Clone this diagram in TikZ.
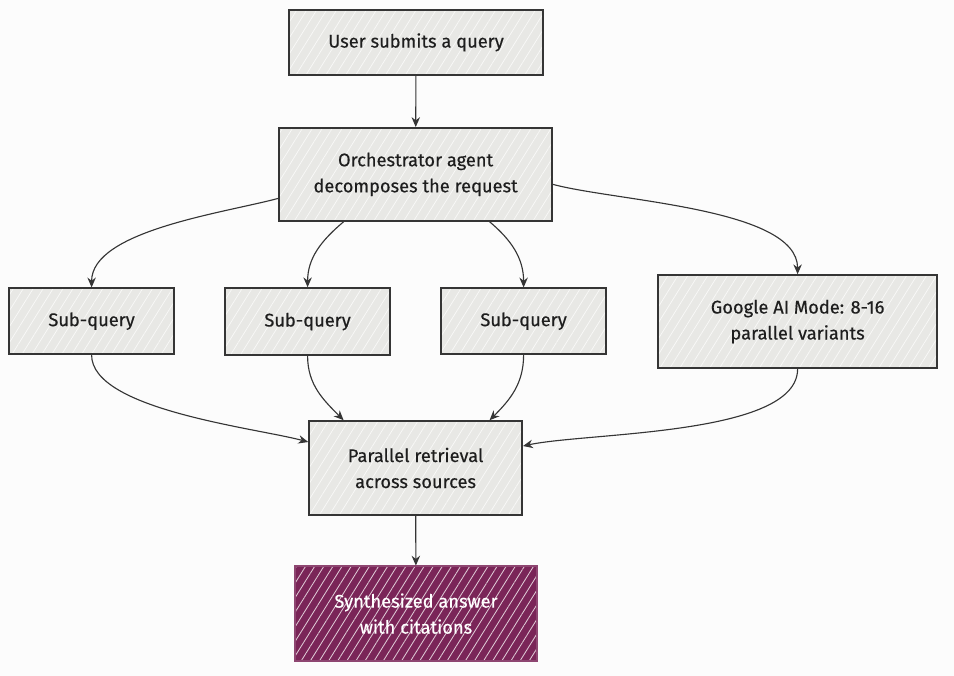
\documentclass[tikz,border=0pt]{standalone}
\usepackage{fontspec}
\setmainfont{Fira Sans}[FakeBold=0.4]
\usetikzlibrary{arrows.meta, positioning, patterns.meta}

\definecolor{boxgray}{HTML}{E8E8E5}
\definecolor{inkdark}{HTML}{1E1E1E}
\definecolor{plum}{HTML}{7A2558}

\begin{document}
\begin{tikzpicture}[
  >={Stealth[length=7pt, width=6pt]},
  font=\fontsize{13}{18.5}\selectfont,
  stepbox/.style={draw=inkdark!90, line width=1.1pt, align=center,
    text=inkdark, inner sep=2pt, preaction={fill=boxgray},
    pattern={Lines[angle=58, distance=6pt, line width=0.5pt]},
    pattern color=white!75!boxgray},
  answer/.style={stepbox, draw=plum!85!white, preaction={fill=plum}, text=white,
    pattern={Lines[angle=58, distance=5.5pt, line width=0.6pt]},
    pattern color=white!75!plum},
  arr/.style={->, line width=0.8pt, draw=inkdark!90},
]

  % canvas
  \fill[white!98!gray] (0,0) rectangle (23.85,-16.9);
  \useasboundingbox (0,0) rectangle (23.85,-16.9);

  % Top
  \node[stepbox, minimum width=6.35cm, minimum height=1.63cm] (user) at (10.4, -1.06) {User submits a query};
  \node[stepbox, minimum width=6.83cm, minimum height=2.33cm] (orch) at (10.39, -4.36) {Orchestrator agent\\decomposes the request};

  % Sub-queries
  \node[stepbox, minimum width=4.13cm, minimum height=1.65cm] (sq1) at (2.29, -8.03) {Sub-query};
  \node[stepbox, minimum width=4.13cm, minimum height=1.68cm] (sq2) at (7.69, -8.04) {Sub-query};
  \node[stepbox, minimum width=4.13cm, minimum height=1.65cm] (sq3) at (13.09, -8.03) {Sub-query};
  \node[stepbox, minimum width=6.98cm, minimum height=2.33cm] (gam) at (19.94, -8.04) {Google AI Mode: 8-16\\parallel variants};

  % Bottom
  \node[stepbox, minimum width=5.33cm, minimum height=2.35cm] (retr) at (10.39, -11.7) {Parallel retrieval\\across sources};
  \node[answer, minimum width=6.05cm, minimum height=2.38cm] (synth) at (10.4, -15.34) {Synthesized answer\\with citations};

  % Arrows
  \draw[arr] (user) -- (orch);
  \draw[arr] ([yshift=-0.6cm]orch.west) to[out=195, in=90, looseness=0.7] (sq1.north);
  \draw[arr] ([xshift=-1.8cm]orch.south) to[out=-140, in=90] (sq2.north);
  \draw[arr] ([xshift=1.85cm]orch.south) to[out=-40, in=90] (sq3.north);
  \draw[arr] ([yshift=-0.25cm]orch.east) to[out=-15, in=90, looseness=0.65] (gam.north);

  \draw[arr] (sq1.south) to[out=-90, in=165, looseness=0.6] ([yshift=0.65cm]retr.west);
  \draw[arr] (sq2.south) to[out=-90, in=135] ([xshift=-1.8cm]retr.north);
  \draw[arr] (sq3.south) to[out=-90, in=45] ([xshift=1.85cm]retr.north);
  \draw[arr] (gam.south) to[out=-90, in=12, looseness=0.6] ([yshift=0.55cm]retr.east);
  \draw[arr] (retr) -- (synth);

\end{tikzpicture}
\end{document}
